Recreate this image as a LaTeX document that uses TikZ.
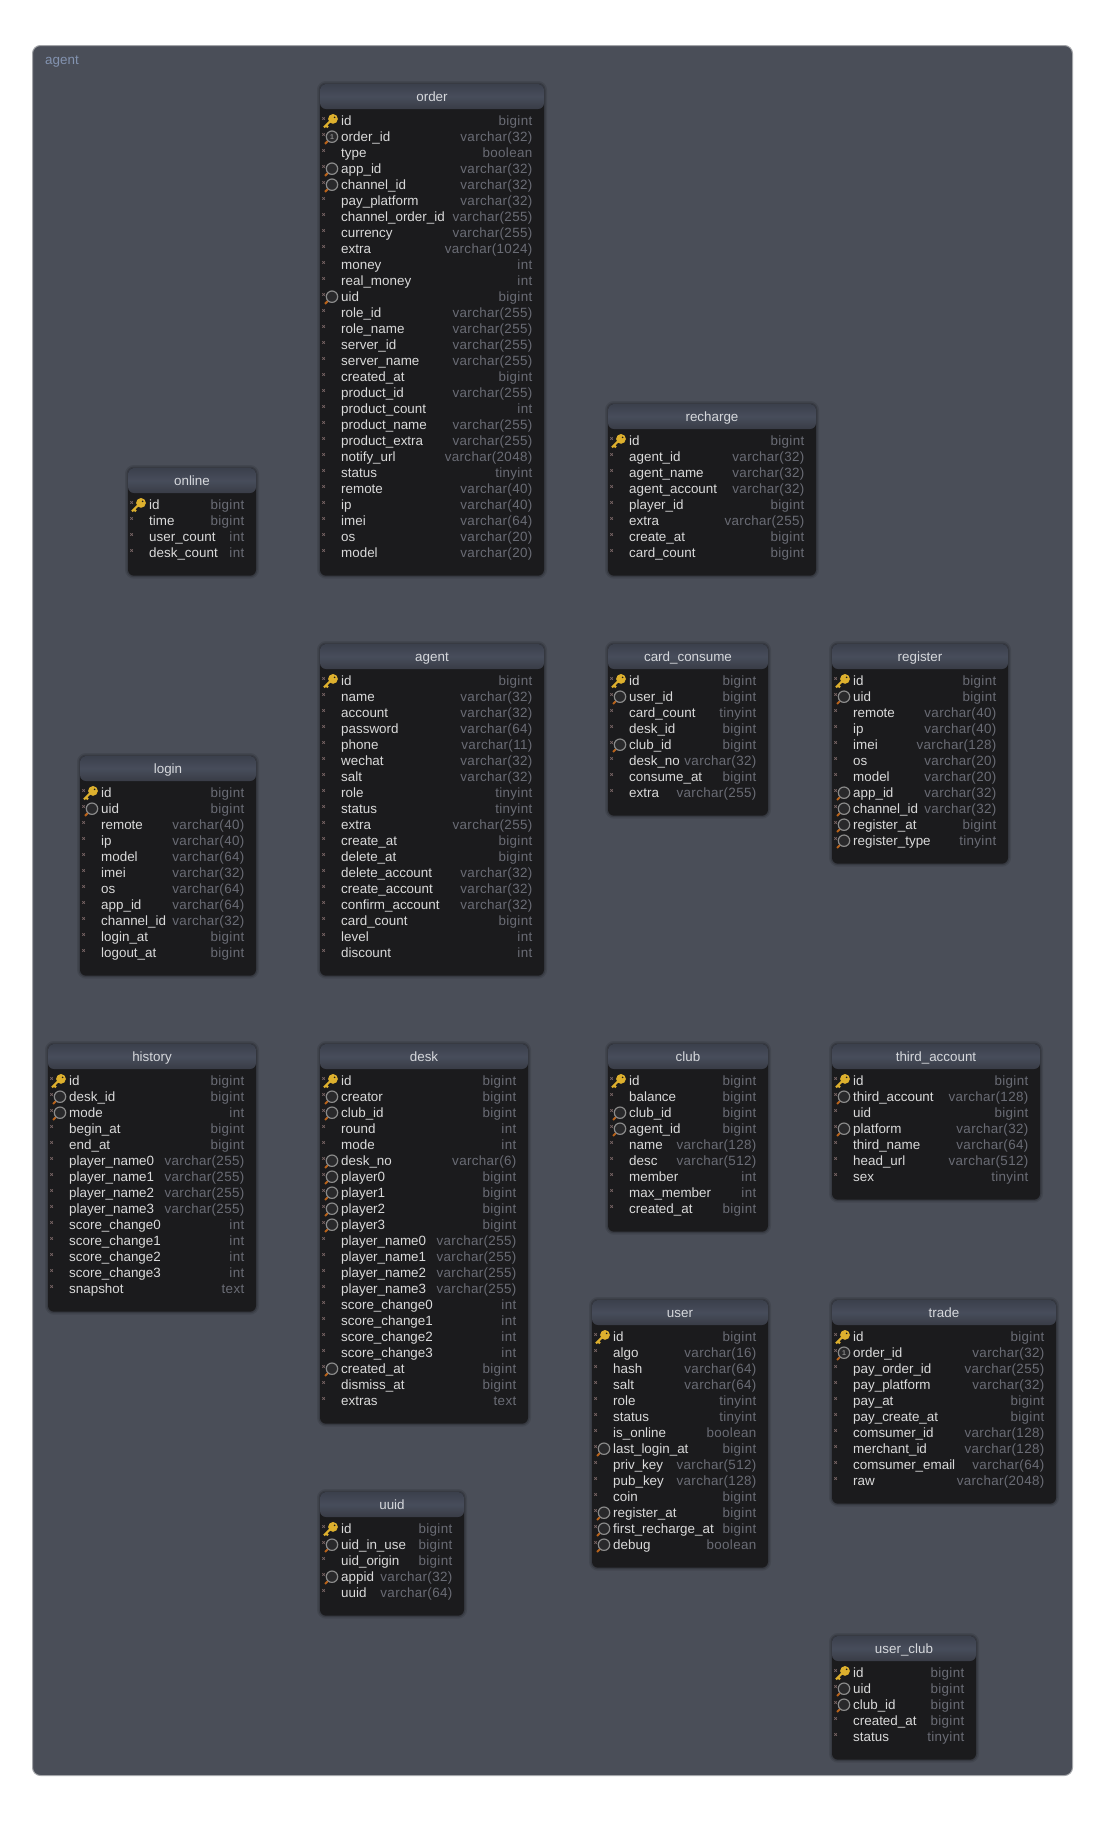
\documentclass[tikz,border=0pt]{standalone}
\usepackage{fontspec}
\setmainfont{Liberation Sans}
\usetikzlibrary{shapes}

\definecolor{panelfill}{HTML}{4A4E58}
\definecolor{paneledge}{HTML}{A3A5A9}
\definecolor{panellabel}{HTML}{8393B0}
\definecolor{bodyfill}{HTML}{1B1B1D}
\definecolor{headtop}{HTML}{3B404C}
\definecolor{headmid}{HTML}{474D5B}
\definecolor{headlow}{HTML}{393C46}
\definecolor{titletext}{HTML}{D6D8DC}
\definecolor{nametext}{HTML}{DADADA}
\definecolor{typetext}{HTML}{6A6C75}
\definecolor{rowmark}{HTML}{7A6666}
\definecolor{keygold}{HTML}{DDB02E}
\definecolor{lensring}{HTML}{8A8A8A}
\definecolor{lensfill}{HTML}{29292B}
\definecolor{lenshandle}{HTML}{B8621A}

\newcommand{\iconn}{\draw[markline] (2.4,-3.4) -- (4.8,-1) (2.4,-1) -- (4.8,-3.4);}
\newcommand{\iconk}{\iconn
	\draw[keyline] (4,6.7) -- (11,-0.3) (6,4.7) -- (8,6.7);
	\fill[keygold] (13,-1.8) circle (4.9);
	\fill[bodyfill] (14.6,-3.4) circle (0.9);}
\newcommand{\iconm}{\iconn
	\draw[handleline] (8,4.2) -- (5,7.2);
	\draw[lensline] (12,0) circle (5.7);}
\newcommand{\iconu}{\iconm
	\node[uniquemark] (\tblid-one\frow) at (12,0) {1};}

\newcommand{\erdtable}[7]{
	\def\tblid{#1}
	\pgfmathsetmacro{\tblwidth}{#3-#2}
	\pgfmathsetmacro{\tblheight}{37.7+16*(#5-1)+22}
	\node[tablebody,minimum width=\tblwidth,minimum height=\tblheight] (#1) at (#2,{#4+1}) {};
	\node[tablehead,minimum width=\tblwidth] (#1-head) at (#2,{#4+1}) {#6};
	\foreach \ficon/\fname/\ftype [count=\frow from 0] in {#7}{
		\pgfmathsetmacro{\rowy}{#4+37.7+16*\frow}
		\begin{scope}[shift={(#2,\rowy)}]
			\csname icon\ficon\endcsname
		\end{scope}
		\node[fieldname] (#1-name\frow) at ({#2+21},{\rowy+4.4}) {\fname};
		\node[fieldtype] (#1-type\frow) at ({#3-11.5},{\rowy+4.4}) {\ftype};
	}
}

\begin{document}
\begin{tikzpicture}[x=1pt,y=-1pt]
	\tikzstyle{tablebody}=[rectangle,anchor=north west,inner sep=0,outer sep=0,rounded corners=6pt,fill=bodyfill,
		preaction={draw=black,draw opacity=.10,line width=6pt},preaction={draw=black,draw opacity=.16,line width=3pt}]
	\tikzstyle{tablehead}=[rectangle,anchor=north west,inner sep=0,outer sep=0,rounded corners=6pt,minimum height=25,
		top color=headtop,bottom color=headlow,middle color=headmid,text=titletext,font=\fontsize{13.4}{14}\selectfont,text height=12,text depth=1.6]
	\tikzstyle{fieldname}=[anchor=base west,inner sep=0,text=nametext,font=\fontsize{13.4}{14}\selectfont]
	\tikzstyle{fieldtype}=[anchor=base east,inner sep=0,text=typetext,font=\fontsize{13.4}{14}\selectfont\addfontfeature{LetterSpace=2.5}]
	\tikzstyle{markline}=[draw=rowmark,line width=.8pt]
	\tikzstyle{keyline}=[draw=keygold,line width=2.2pt]
	\tikzstyle{handleline}=[draw=lenshandle,line width=2pt]
	\tikzstyle{lensline}=[draw=lensring,fill=lensfill,line width=1.2pt]
	\tikzstyle{uniquemark}=[inner sep=0,text=lensring,font=\fontsize{7}{7}\selectfont\bfseries]

	\useasboundingbox (0,0) rectangle (1104,1840);
	\node[rectangle,anchor=north west,inner sep=0,rounded corners=8pt,draw=paneledge,line width=1pt,fill=panelfill,minimum width=1040,minimum height=1730] (panel) at (32,45) {};
	\node[anchor=base west,inner sep=0,text=panellabel,font=\fontsize{13.4}{14}\selectfont] (panellabel) at (45,64) {agent};

	\erdtable{order}{320}{544}{83}{28}{order}{k/id/bigint,u/order\_id/varchar(32),n/type/boolean,m/app\_id/varchar(32),m/channel\_id/varchar(32),
		n/pay\_platform/varchar(32),n/channel\_order\_id/varchar(255),n/currency/varchar(255),n/extra/varchar(1024),n/money/int,n/real\_money/int,
		m/uid/bigint,n/role\_id/varchar(255),n/role\_name/varchar(255),n/server\_id/varchar(255),n/server\_name/varchar(255),n/created\_at/bigint,
		n/product\_id/varchar(255),n/product\_count/int,n/product\_name/varchar(255),n/product\_extra/varchar(255),n/notify\_url/varchar(2048),
		n/status/tinyint,n/remote/varchar(40),n/ip/varchar(40),n/imei/varchar(64),n/os/varchar(20),n/model/varchar(20)}
	\erdtable{online}{128}{256}{467}{4}{online}{k/id/bigint,n/time/bigint,n/user\_count/int,n/desk\_count/int}
	\erdtable{recharge}{608}{816}{403}{8}{recharge}{k/id/bigint,n/agent\_id/varchar(32),n/agent\_name/varchar(32),n/agent\_account/varchar(32),
		n/player\_id/bigint,n/extra/varchar(255),n/create\_at/bigint,n/card\_count/bigint}
	\erdtable{agent}{320}{544}{643}{18}{agent}{k/id/bigint,n/name/varchar(32),n/account/varchar(32),n/password/varchar(64),n/phone/varchar(11),
		n/wechat/varchar(32),n/salt/varchar(32),n/role/tinyint,n/status/tinyint,n/extra/varchar(255),n/create\_at/bigint,n/delete\_at/bigint,
		n/delete\_account/varchar(32),n/create\_account/varchar(32),n/confirm\_account/varchar(32),n/card\_count/bigint,n/level/int,n/discount/int}
	\erdtable{cardconsume}{608}{768}{643}{8}{card\_consume}{k/id/bigint,m/user\_id/bigint,n/card\_count/tinyint,n/desk\_id/bigint,m/club\_id/bigint,
		n/desk\_no/varchar(32),n/consume\_at/bigint,n/extra/varchar(255)}
	\erdtable{register}{832}{1008}{643}{11}{register}{k/id/bigint,m/uid/bigint,n/remote/varchar(40),n/ip/varchar(40),n/imei/varchar(128),n/os/varchar(20),
		n/model/varchar(20),m/app\_id/varchar(32),m/channel\_id/varchar(32),m/register\_at/bigint,m/register\_type/tinyint}
	\erdtable{login}{80}{256}{755}{11}{login}{k/id/bigint,m/uid/bigint,n/remote/varchar(40),n/ip/varchar(40),n/model/varchar(64),n/imei/varchar(32),
		n/os/varchar(64),n/app\_id/varchar(64),n/channel\_id/varchar(32),n/login\_at/bigint,n/logout\_at/bigint}
	\erdtable{history}{48}{256}{1043}{14}{history}{k/id/bigint,m/desk\_id/bigint,m/mode/int,n/begin\_at/bigint,n/end\_at/bigint,
		n/player\_name0/varchar(255),n/player\_name1/varchar(255),n/player\_name2/varchar(255),n/player\_name3/varchar(255),
		n/score\_change0/int,n/score\_change1/int,n/score\_change2/int,n/score\_change3/int,n/snapshot/text}
	\erdtable{desk}{320}{528}{1043}{21}{desk}{k/id/bigint,m/creator/bigint,m/club\_id/bigint,n/round/int,n/mode/int,m/desk\_no/varchar(6),
		m/player0/bigint,m/player1/bigint,m/player2/bigint,m/player3/bigint,
		n/player\_name0/varchar(255),n/player\_name1/varchar(255),n/player\_name2/varchar(255),n/player\_name3/varchar(255),
		n/score\_change0/int,n/score\_change1/int,n/score\_change2/int,n/score\_change3/int,m/created\_at/bigint,n/dismiss\_at/bigint,n/extras/text}
	\erdtable{club}{608}{768}{1043}{9}{club}{k/id/bigint,n/balance/bigint,m/club\_id/bigint,m/agent\_id/bigint,n/name/varchar(128),n/desc/varchar(512),
		n/member/int,n/max\_member/int,n/created\_at/bigint}
	\erdtable{thirdaccount}{832}{1040}{1043}{7}{third\_account}{k/id/bigint,m/third\_account/varchar(128),n/uid/bigint,m/platform/varchar(32),
		n/third\_name/varchar(64),n/head\_url/varchar(512),n/sex/tinyint}
	\erdtable{user}{592}{768}{1299}{14}{user}{k/id/bigint,n/algo/varchar(16),n/hash/varchar(64),n/salt/varchar(64),n/role/tinyint,n/status/tinyint,
		n/is\_online/boolean,m/last\_login\_at/bigint,n/priv\_key/varchar(512),n/pub\_key/varchar(128),n/coin/bigint,m/register\_at/bigint,
		m/first\_recharge\_at/bigint,m/debug/boolean}
	\erdtable{trade}{832}{1056}{1299}{10}{trade}{k/id/bigint,u/order\_id/varchar(32),n/pay\_order\_id/varchar(255),n/pay\_platform/varchar(32),n/pay\_at/bigint,
		n/pay\_create\_at/bigint,n/comsumer\_id/varchar(128),n/merchant\_id/varchar(128),n/comsumer\_email/varchar(64),n/raw/varchar(2048)}
	\erdtable{uuid}{320}{464}{1491}{5}{uuid}{k/id/bigint,m/uid\_in\_use/bigint,n/uid\_origin/bigint,m/appid/varchar(32),n/uuid/varchar(64)}
	\erdtable{userclub}{832}{976}{1635}{5}{user\_club}{k/id/bigint,m/uid/bigint,m/club\_id/bigint,n/created\_at/bigint,n/status/tinyint}
\end{tikzpicture}
\end{document}
